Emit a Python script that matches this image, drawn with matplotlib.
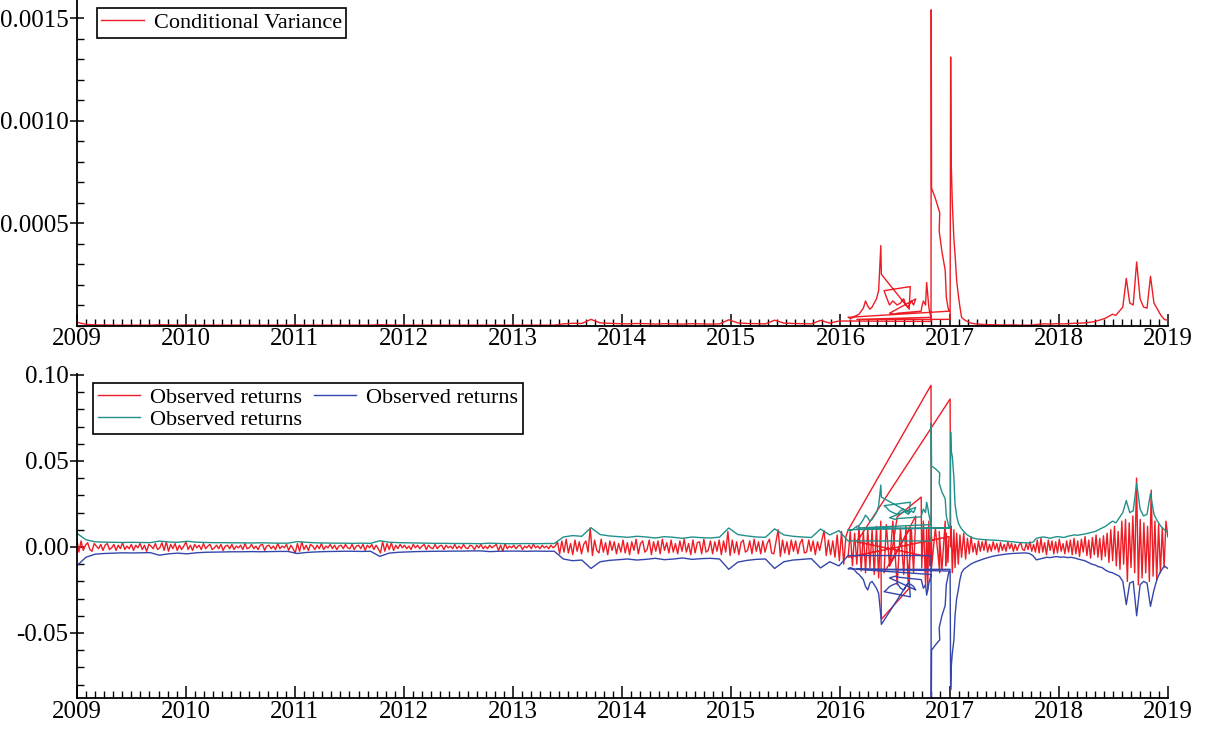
import numpy as np
import matplotlib.pyplot as plt
from matplotlib.ticker import MultipleLocator, FormatStrFormatter, FixedLocator

plt.rcParams['font.family'] = ['Liberation Serif', 'DejaVu Serif']

RED = '#ee1c25'
TEAL = '#22908a'
BLUE = '#3446ab'

# --- 2009.00 .. 2016.07, returns at ~50 obs per year (units 1e-4)
early_ret = [
    50, -30, 35, -20, 10, 25, -15, -25, 20, 5, -10, 15, -20, 10, 20, -15, -5, 15, -20, 10, -10, 25, -15, 5, -10,
    15, -20, 10, -5, 20, -15, 10, -25, 15, 5, -10, 20, -15, -5, 25, -20, 30, -25, 15, -10, 20, -20, 10, -15, 5,
    30, -15, 10, -20, 15, -5, 10, -15, 20, -10, 5, 15, -15, -5, 10, -10, 15, -20, 5, 10, -10, 15, -15, 5, -5,
    10, -15, 20, -10, -5, 15, -10, 5, -15, 10, 15, -20, 5, 10, -10, 5, -15, 20, -10, 5, -5, 15, -20, 10, -10,
    -35, 20, -25, 30, -15, 10, -20, 15, 5, -15, 10, -10, 20, -15, 5, -5, 15, -10, 10, -15, 5, 10, -10, 15, -5,
    -10, 15, -15, 5, 10, -10, 15, -20, 10, -5, 15, -15, 10, -10, -35, 30, -25, 20, -15, 25, -20, 10, -10, 15, -5,
    10, -10, 5, -15, 15, -5, 10, -10, 5, 15, -15, 10, -5, -10, 15, -10, 5, 10, -15, 10, -5, 5, -10, 15, -10,
    5, -10, 15, -5, -10, 10, 5, -15, 10, -5, 15, -10, 5, -10, 10, -5, 5, 15, -20, 10, -25, 20, -10, 5, -5,
    10, -10, 5, 10, -15, 5, -5, 10, -10, 15, -5, 5, -10, 10, -5, 5, -10, 10, -5, 5, 30, -40, 35, -30, 45,
    -35, 20, -45, 40, -25, 30, -40, 15, 35, -30, 110, -50, 40, -20, -35, 45, -30, 25, -45, 35, -20, 30, -40, 20, -30,
    40, -35, 25, -45, 30, -20, 45, -40, 20, 35, -30, -15, 40, -45, 30, -25, 35, -40, 45, -20, 25, -35, 40, -30, 20,
    -40, 35, -25, 45, -30, 20, -45, 40, -35, 25, 30, -40, 45, -30, -20, 35, -40, 30, -25, 40, -45, 35, -30, 90, -50,
    40, -35, 30, -45, 25, 40, -30, -20, 35, -40, 45, -25, 30, -40, 35, -30, 20, 45, -35, -40, 30, 100, -55, 40, -35,
    30, -45, 40, -25, 35, -40, 20, 45, -35, -30, 40, -25, 35, -45, 30, -20, 40, 95, -50, 40, -45, 35, -60, 70, -80,
    90, -100, 60, 98,
]

# --- 2009.00 .. 2016.07, bands (1e-4) and conditional variance (1e-6), monthly
early_up = [
    80, 42, 30, 28, 27, 26, 27, 26, 25, 34, 29, 27,
    33, 28, 26, 25, 25, 24, 24, 23, 24, 23, 22, 22,
    31, 27, 24, 23, 22, 22, 21, 22, 21, 36, 28, 25,
    24, 23, 22, 21, 21, 20, 20, 20, 19, 22, 20, 19,
    19, 20, 19, 20, 20, 58, 66, 62, 112, 72, 64, 60,
    56, 62, 58, 52, 60, 56, 50, 58, 54, 52, 57, 110,
    72, 64, 58, 56, 105, 70, 62, 58, 55, 104, 70, 95, 35,
]
early_lo = [
    -110, -60, -42, -38, -36, -34, -35, -34, -33, -48, -40, -36,
    -40, -34, -31, -30, -29, -28, -28, -27, -28, -27, -26, -26,
    -38, -32, -29, -27, -26, -25, -25, -26, -25, -55, -36, -31,
    -29, -27, -26, -25, -25, -24, -24, -23, -23, -27, -25, -24,
    -24, -25, -24, -25, -25, -70, -80, -76, -125, -86, -78, -74,
    -70, -76, -72, -66, -74, -70, -64, -72, -68, -66, -70, -130,
    -88, -78, -72, -70, -125, -86, -76, -72, -68, -122, -86, -110, -50,
]
early_var = [
    16, 6, 3, 3, 2, 2, 2, 2, 2, 4, 3, 2,
    3, 2, 2, 2, 2, 2, 2, 2, 2, 2, 2, 2,
    3, 2, 2, 2, 2, 2, 2, 2, 2, 4, 3, 2,
    2, 2, 2, 2, 2, 2, 2, 2, 2, 2, 2, 2,
    2, 2, 2, 2, 2, 8, 11, 10, 30, 13, 11, 9,
    8, 10, 9, 7, 9, 8, 7, 9, 8, 7, 8, 28,
    13, 10, 9, 8, 26, 12, 10, 9, 8, 25, 12, 22, 22,
]

# --- 2016 block, dates in the order they are stored (not sorted)
tangle_t = [
    2016.830, 2016.832, 2016.833, 2016.834, 2016.835, 2016.87, 2016.91, 2016.905,
    2016.93, 2016.96, 2016.965, 2016.97, 2016.985, 2016.995,
    2016.07, 2016.09, 2016.11, 2016.13, 2016.15, 2016.17, 2016.19, 2016.21, 2016.23,
    2016.25, 2016.27, 2016.29, 2016.31, 2016.33, 2016.35, 2016.37, 2016.375, 2016.63,
    2016.64, 2016.40, 2016.42, 2016.45, 2016.48, 2016.52, 2016.55, 2016.58, 2016.60,
    2016.62, 2016.65, 2016.67, 2016.69, 2016.45, 2016.50, 2016.52, 2016.74, 2016.745,
    2016.76, 2016.78, 2016.79, 2016.80, 2016.81, 2016.82, 2016.83,
    2016.15, 2017.005, 2017.010, 2017.015, 2017.025, 2017.04, 2017.05, 2017.065,
    2017.08, 2017.095, 2017.11,
]
tangle_ret = [
    940, 0, -80, 60, -120, 110, -150, 90, -130, 150, -110, 80, -90, 60,
    -60, 90, -110, 80, -100, 120, -140, 90, -150, 110, -120, 100, -160, 120, -180,
    150, -420, -240, 110, -150, 130, -110, 150, -220, 110, -160, 120, -200, 100, -150,
    180, -110, 90, 175, 290, -120, 150, -220, 110, -250, 150, -110, -60,
    30, 860, 0, 120, -150, 100, -120, 80, -100, 70, -60,
]
tangle_var = [
    20, 1540, 1100, 900, 670, 620, 550, 460, 360, 270, 200, 140, 90, 70,
    40, 35, 38, 45, 50, 55, 70, 85, 120, 95, 80, 90, 110, 130, 170, 390, 250, 80,
    190, 170, 140, 100, 120, 100, 110, 130, 100, 90, 120, 100, 130, 60, 55, 60, 70,
    90, 120, 100, 210, 150, 90, 60, 40,
    30, 30, 1310, 800, 600, 420, 350, 220, 150, 90, 40,
]
tangle_up = [
    35, 720, 600, 540, 470, 455, 430, 370, 320, 280, 230, 180, 140, 110,
    100, 95, 100, 110, 120, 125, 140, 160, 185, 170, 150, 160, 180, 200, 240, 360,
    290, 200, 260, 240, 230, 210, 200, 190, 210, 220, 200, 190, 210, 200, 230, 170,
    160, 165, 175, 190, 220, 200, 260, 230, 190, 160, 130,
    110, 110, 667, 560, 526, 400, 250, 180, 140, 120, 105,
]
tangle_lo = [
    -50, -1000, -800, -700, -600, -570, -540, -470, -400, -340, -280, -220, -170, -140,
    -127, -120, -125, -135, -150, -160, -175, -190, -230, -250, -210, -200, -220, -240,
    -270, -400, -450, -200, -290, -260, -250, -230, -220, -210, -240, -250, -230, -210,
    -220, -230, -250, -180, -170, -175, -190, -200, -240, -220, -280, -250, -210, -190, -160,
    -130, -130, -830, -700, -620, -540, -400, -300, -250, -190, -150,
]

# --- 2017.13 .. 2019.00, returns ~60 obs per year
late_ret = [
    80, -70, 50, -40, 60, -30, 20, -45, 35, -25, 30, -20, 40, -30, 15, -25, 30, -15, 20, -30,
    25, -20, 15, -25, 30, -10, 20, -25, 15, -20, 10, 25, -15, -20, 20, -15, 30, -25, 15, -30,
    40, -35, 50, -30, 25, -45, 40, -20, 35, -40, 30, -35, 45, -25, 20, -40, 35, -30, 40, -45,
    50, -40, 35, -55, 45, -30, 60, -50, 40, -65, 55, -45, 70, -60, 50, -75, 65, -55, 80, -90,
    100, -80, 120, -110, 90, -130, 150, -100, 160, -200, 140, -120, 180, -150, 400, -220, 160, -180, 140, -150,
    120, -200, 330, -170, 150, -190, 130, -150, 110, -120, 150, 60,
]
# bands / variance, ~32 per year
late_up = [
    90, 70, 58, 50, 46, 44, 42, 41, 40, 39,
    38, 36, 34, 32, 30, 28, 26, 25, 24, 23,
    28, 50, 55, 58, 55, 50, 56, 60, 58, 55,
    62, 66, 70, 68, 72, 75, 80, 85, 90, 100,
    110, 120, 135, 150, 140, 170, 200, 270, 200, 210,
    370, 220, 180, 190, 310, 190, 150, 120, 100, 87,
]
late_lo = [
    -130, -115, -100, -90, -82, -75, -68, -62, -56, -52,
    -48, -45, -42, -40, -38, -37, -36, -35, -35, -38,
    -50, -75, -70, -65, -60, -62, -58, -56, -60, -58,
    -62, -60, -64, -70, -75, -80, -90, -100, -105, -115,
    -120, -135, -145, -150, -160, -170, -200, -335, -210, -200,
    -400, -220, -200, -210, -345, -250, -180, -140, -110, -125,
]
late_var = [
    30, 20, 12, 9, 7, 6, 5, 4, 4, 4,
    3, 3, 3, 3, 3, 3, 2, 2, 2, 2,
    3, 5, 7, 8, 8, 7, 8, 9, 8, 8,
    9, 10, 11, 11, 12, 13, 15, 17, 20, 25,
    30, 36, 45, 55, 50, 70, 90, 230, 110, 100,
    310, 130, 90, 85, 240, 110, 80, 50, 30, 25,
]

years = list(range(2009, 2020))

t_ret = np.concatenate([np.linspace(2009.0, 2016.07, len(early_ret)), tangle_t,
                        np.linspace(2017.13, 2019.0, len(late_ret))])
t_band = np.concatenate([np.linspace(2009.0, 2016.07, len(early_up)), tangle_t,
                         np.linspace(2017.13, 2019.0, len(late_up))])
ret = np.concatenate([early_ret, tangle_ret, late_ret]) * 1e-4
upper = np.concatenate([early_up, tangle_up, late_up]) * 1e-4
lower = np.concatenate([early_lo, tangle_lo, late_lo]) * 1e-4
cvar = np.concatenate([early_var, tangle_var, late_var]) * 1e-6

fig = plt.figure(figsize=(12.08, 7.36), dpi=100)
ax1 = fig.add_axes([0.0635, 0.5577, 0.9032, 0.4423])
ax2 = fig.add_axes([0.0635, 0.0516, 0.9032, 0.4402])

ax1.plot(t_band, cvar, color=RED, lw=1.0, label='Conditional Variance')

l_red, = ax2.plot(t_ret, ret, color=RED, lw=1.0, label='Observed returns')
l_blue, = ax2.plot(t_band, lower, color=BLUE, lw=1.0, label='Observed returns')
l_teal, = ax2.plot(t_band, upper, color=TEAL, lw=1.0, label='Observed returns')

ax1.set_ylim(0, 0.001588)
ax1.yaxis.set_major_locator(FixedLocator([0.0005, 0.0010, 0.0015]))
ax1.yaxis.set_major_formatter(FormatStrFormatter('%.4f'))
ax1.yaxis.set_minor_locator(MultipleLocator(0.0001))

ax2.set_ylim(-0.0878, 0.1005)
ax2.yaxis.set_major_locator(FixedLocator([-0.05, 0.0, 0.05, 0.10]))
ax2.yaxis.set_major_formatter(FormatStrFormatter('%.2f'))
ax2.yaxis.set_minor_locator(MultipleLocator(0.01))

for ax in (ax1, ax2):
    ax.set_xlim(2009, 2019)
    ax.set_xticks(years)
    ax.set_xticklabels([str(y) for y in years])
    ax.xaxis.set_minor_locator(MultipleLocator(1 / 12))
    for side in ('top', 'right'):
        ax.spines[side].set_visible(False)
    for side in ('left', 'bottom'):
        ax.spines[side].set_linewidth(1.3)
    ax.tick_params(axis='x', which='major', direction='in', length=9, width=1.1,
                   labelsize=18, pad=2)
    ax.tick_params(axis='x', which='minor', direction='in', length=5, width=1.0)
    ax.tick_params(axis='y', which='major', direction='inout', length=10, width=1.1,
                   labelsize=18, pad=1)
    ax.tick_params(axis='y', which='minor', direction='in', length=5, width=1.0)

leg_kw = dict(loc='upper left', fontsize=16, frameon=True, fancybox=False,
              edgecolor='black', framealpha=1, borderaxespad=0, borderpad=0.2,
              handlelength=1.9, handletextpad=0.45)

leg1 = ax1.legend(bbox_to_anchor=(0.0185, 0.975), **leg_kw)
leg1.get_frame().set_linewidth(1.2)

leg2 = ax2.legend([l_red, l_teal, l_blue], ['Observed returns'] * 3, ncol=2,
                  bbox_to_anchor=(0.015, 0.972), labelspacing=0.05,
                  columnspacing=0.55, **leg_kw)
leg2.get_frame().set_linewidth(1.2)

fig.savefig('out.png', dpi=100)
